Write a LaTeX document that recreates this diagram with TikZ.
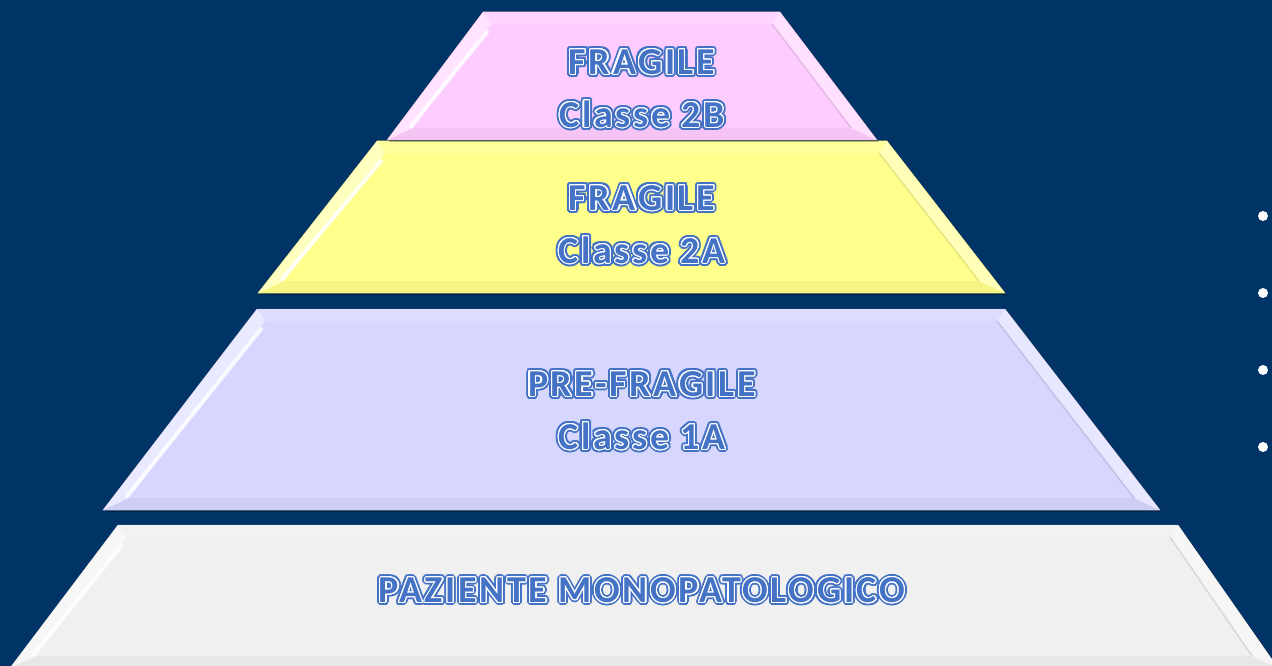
\documentclass[tikz,border=0pt]{standalone}
\usepackage{fontspec}
\setmainfont{Carlito}
\newfontfamily\tierfont{Carlito}[LetterSpace=7]
\usepackage{contour}
\contournumber{16}

\definecolor{sfondo}{RGB}{0,51,102}
\definecolor{rosa}{RGB}{255,204,255}
\definecolor{giallo}{RGB}{255,255,140}
\definecolor{lilla}{RGB}{214,214,255}
\definecolor{grigio}{RGB}{240,240,240}
\definecolor{testoblu}{RGB}{68,114,196}

\newcommand{\glow}[1]{\makebox[0pt][l]{\contourlength{3.2pt}\contour{testoblu}{#1}}%
  \contourlength{1.1pt}\contour{white}{#1}}

\begin{document}
\begin{tikzpicture}[x=1pt,y=-1pt,
                    tier/.style={draw=#1!60!black,line width=0.5pt,fill=#1},
                    tiertext/.style={text=testoblu,align=center,
                      font=\tierfont\bfseries\fontsize{38}{53}\selectfont},
                    dot/.style={circle,fill=white,inner sep=0pt,minimum size=10pt}]
  \useasboundingbox[fill=sfondo] (0,0) rectangle (1272,666);

  % tiers, bottom first
  \foreach \n/\col/\tl/\tr/\ty/\bl/\br/\by in
    {4/grigio/118/1178/525/10/1278/668,
     3/lilla/257/1005/309/103/1160/510,
     2/giallo/377/887/141/258/1005/293,
     1/rosa/483/780/12/387/877/140}
  {
    \fill[black,opacity=0.3] (\tl+2,\ty+2) -- (\tr+2,\ty+2) -- (\br+2,\by+2) -- (\bl+2,\by+2) -- cycle;
    \path[tier=\col] (\tl,\ty) -- (\tr,\ty) -- (\br,\by) -- (\bl,\by) -- cycle;
    % bevel
    \fill[\col!85!white] (\tl,\ty) -- (\tr,\ty) -- (\tr-8,\ty+12) -- (\tl+8,\ty+12) -- cycle;
    \fill[\col!96!black] (\bl,\by) -- (\br,\by) -- (\br-26,\by-12) -- (\bl+26,\by-12) -- cycle;
    \fill[\col!55!white] (\tl,\ty) -- (\tl+8,\ty+12) -- (\bl+26,\by-12) -- (\bl,\by) -- cycle;
    \fill[\col!60!white] (\tr,\ty) -- (\tr-8,\ty+12) -- (\br-26,\by-12) -- (\br,\by) -- cycle;
    \draw[\col!90!black,line width=1.5pt] (\tr-8,\ty+12) -- (\br-26,\by-12);
    \draw[white,line width=4pt,opacity=0.85,line cap=round]
      (\tl+4,\ty+20) -- (\bl+24,\by-14);
  }

  \node[tiertext] (t1) at (642,90)  {\glow{FRAGILE}\\\glow{Classe 2B}};
  \node[tiertext] (t2) at (642,226) {\glow{FRAGILE}\\\glow{Classe 2A}};
  \node[tiertext] (t3) at (642,412) {\glow{PRE-FRAGILE}\\\glow{Classe 1A}};
  \node[tiertext] (t4) at (642,592) {\glow{PAZIENTE MONOPATOLOGICO}};

  \foreach \i/\y in {1/216,2/293,3/370,4/447}
    \node[dot] (b\i) at (1263,\y) {};
\end{tikzpicture}
\end{document}
